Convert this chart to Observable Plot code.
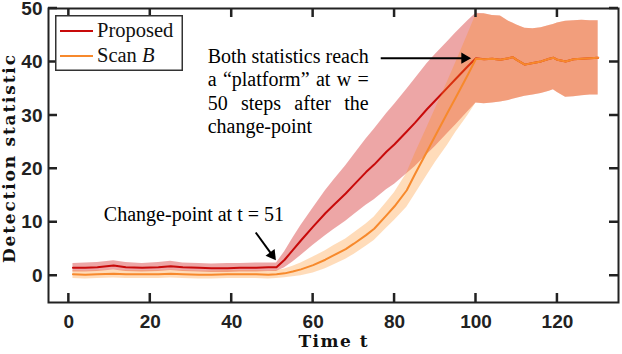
<!DOCTYPE html>
<html><head><meta charset="utf-8">
<script src="https://cdn.jsdelivr.net/npm/d3@7"></script>
<script src="https://cdn.jsdelivr.net/npm/@observablehq/plot@0.6"></script>
<style>
body{margin:0;background:#fff;}
#wrap{position:relative;width:622px;height:354px;}
#legend{position:absolute;left:55px;top:15px;}
</style></head><body><div id="wrap"></div>
<script>
// ---- data ----
const t = [1, 4, 7, 11, 14, 18, 22, 25, 28, 32, 35, 39, 42, 46, 49, 51,
  53, 55, 57, 60, 63, 65, 68, 70, 73, 75, 78, 80, 83, 85, 88, 90, 93, 95, 98, 100,
  102, 104, 106, 108, 109, 110, 112, 114, 116, 118, 119, 120, 122, 124, 126, 128, 130];

const proposed = [1.5, 1.5, 1.6, 1.9, 1.6, 1.5, 1.6, 1.8, 1.6, 1.5, 1.4, 1.4, 1.5, 1.5, 1.6, 1.6,
  3.0, 4.8, 6.6, 9.2, 11.7, 13.2, 15.4, 17.0, 19.4, 20.8, 23.2, 24.6, 27.0, 28.6, 31.2, 32.8, 35.2, 36.8, 39.2, 40.7,
  40.5, 40.6, 40.4, 40.7, 40.9, 40.4, 39.5, 39.8, 40.1, 40.6, 40.8, 40.4, 40.1, 40.5, 40.6, 40.7, 40.8];
const proposedLo = [0.7, 0.7, 0.8, 1.1, 0.8, 0.7, 0.8, 1.0, 0.8, 0.7, 0.6, 0.6, 0.7, 0.7, 0.8, 0.8,
  1.5, 2.6, 3.8, 5.7, 7.5, 8.6, 10.2, 11.4, 13.2, 14.2, 16.1, 17.1, 19.1, 20.4, 22.7, 24.2, 26.6, 28.2, 30.7, 32.3,
  32.2, 32.3, 32.5, 32.8, 33.0, 33.2, 33.6, 33.8, 34.1, 34.5, 34.8, 34.3, 33.4, 33.5, 33.7, 33.8, 33.8];
const proposedHi = [2.3, 2.4, 2.5, 2.8, 2.5, 2.3, 2.5, 2.7, 2.4, 2.3, 2.2, 2.3, 2.3, 2.4, 2.4, 2.4,
  4.5, 7.0, 9.4, 12.7, 15.9, 17.8, 20.6, 22.6, 25.6, 27.4, 30.3, 32.1, 34.9, 36.8, 39.7, 41.4, 43.8, 45.4, 47.7, 49.1,
  49.0, 48.7, 48.6, 47.6, 47.3, 46.9, 46.3, 46.2, 46.4, 46.8, 47.0, 47.3, 47.6, 47.7, 47.8, 47.7, 47.7];

const scanB = [0.3, 0.2, 0.3, 0.4, 0.3, 0.3, 0.3, 0.4, 0.3, 0.2, 0.2, 0.3, 0.3, 0.3, 0.2, 0.3,
  0.45, 0.8, 1.2, 2.0, 3.0, 3.8, 5.0, 6.0, 7.6, 8.8, 11.3, 13.0, 16.0, 19.0, 23.3, 26.2, 30.5, 33.3, 37.6, 40.6,
  40.5, 40.6, 40.4, 40.7, 40.9, 40.4, 39.5, 39.8, 40.1, 40.6, 40.8, 40.4, 40.1, 40.5, 40.6, 40.7, 40.8];
const scanBLo = [-0.5, -0.6, -0.5, -0.4, -0.5, -0.5, -0.5, -0.4, -0.5, -0.6, -0.6, -0.5, -0.5, -0.5, -0.6, -0.5,
  -0.35, -0.2, 0.0, 0.5, 1.3, 2.0, 3.1, 4.0, 5.5, 6.6, 8.9, 10.4, 12.8, 15.2, 18.8, 21.2, 24.4, 26.8, 30.0, 32.3,
  32.2, 32.3, 32.5, 32.8, 33.0, 33.2, 33.6, 33.8, 34.1, 34.5, 34.8, 34.3, 33.4, 33.5, 33.7, 33.8, 33.8];
const scanBHi = [1.0, 0.9, 1.0, 1.1, 1.0, 1.0, 1.0, 1.1, 1.0, 0.9, 0.9, 1.0, 1.0, 1.0, 0.9, 1.0,
  1.25, 1.8, 2.4, 3.5, 4.7, 5.6, 6.9, 8.0, 9.7, 11.0, 13.7, 15.6, 19.2, 22.8, 27.8, 31.2, 36.3, 39.8, 45.2, 48.9,
  49.0, 48.7, 48.6, 47.6, 47.3, 46.9, 46.3, 46.2, 46.4, 46.8, 47.0, 47.3, 47.6, 47.7, 47.8, 47.7, 47.7];

const xTicks = [0, 20, 40, 60, 80, 100, 120];
const yTicks = [0, 10, 20, 30, 40, 50];
const seriesMain = ["Proposed", "Scan "];
const seriesItalic = ["", "B"];
const lineColors = ["#c80a0a", "#f7892c"];
const bandColors = ["#cc0000", "#ff8c1a"];

const xLabel = "Time t";
const yLabel = "Detection statistic";
const noteText = "Both statistics reach\na \u201Cplatform\u201D at w =\n50 steps after the\nchange-point";
const noteAt = {x: 34.1, y: 42.9};
const cpText = "Change-point at t = 51";
const cpAt = {x: 8.6, y: 11.5};
const arrows = [
  {x1: 76.6, y1: 40.7, x2: 97.2, y2: 40.7, tipX: 97.2, tipY: 40.7, angle: 90},
  {x1: 45.9, y1: 8.1, x2: 49.9, y2: 3.9, tipX: 49.9, tipY: 3.9, angle: 143.5}
];

// ---- build table ----
const rows = t.map((d, i) => ({
  t: d, p: proposed[i], pLo: proposedLo[i], pHi: proposedHi[i],
  s: scanB[i], sLo: scanBLo[i], sHi: scanBHi[i]
}));

const serif = "'Liberation Serif', 'Times New Roman', serif";
const labelSerif = "'DejaVu Serif', serif";
const W = 622, H = 354, mL = 48, mR = 4, mT = 8, mB = 52;
const tickLen = 9;
const frameW = W - mL - mR, frameH = H - mT - mB;
const axisInk = "#222222";
const xDomain = [-5, 135], yDomain = [-5, 50];

const plot = Plot.plot({
  width: W, height: H,
  marginLeft: mL, marginRight: mR, marginTop: mT, marginBottom: mB,
  x: {domain: xDomain},
  y: {domain: yDomain},
  style: {fontFamily: "'Liberation Sans', Arial, sans-serif", fontSize: "19px", fontWeight: "bold", color: axisInk, background: "white"},
  marks: [
    Plot.areaY(rows, {x: "t", y1: "pLo", y2: "pHi", fill: bandColors[0], fillOpacity: 0.35}),
    Plot.line(rows, {x: "t", y: "p", stroke: lineColors[0], strokeWidth: 2}),
    Plot.areaY(rows, {x: "t", y1: "sLo", y2: "sHi", fill: bandColors[1], fillOpacity: 0.3}),
    Plot.line(rows, {x: "t", y: "s", stroke: lineColors[1], strokeWidth: 2}),
    Plot.frame({stroke: axisInk, strokeWidth: 2, fill: "none"}),
    Plot.axisX({ticks: xTicks, anchor: "bottom", tickSize: 0, tickPadding: 12, label: null}),
    Plot.axisY({ticks: yTicks, anchor: "left", tickSize: 0, tickPadding: 6, label: null}),
    Plot.text([noteText], {x: noteAt.x, y: noteAt.y, textAnchor: "start", lineAnchor: "top", lineHeight: 1.165, fontFamily: serif, fontSize: 20, fontWeight: "normal", fill: "#000"}),
    Plot.text([cpText], {x: cpAt.x, y: cpAt.y, textAnchor: "start", lineAnchor: "middle", fontFamily: serif, fontSize: 20, fontWeight: "normal", fill: "#000"}),
    Plot.link(arrows, {x1: "x1", y1: "y1", x2: "x2", y2: "y2", stroke: "#000", strokeWidth: 2}),
    Plot.dot(arrows, {x: "tipX", y: "tipY", symbol: "triangle", r: 4.2, fill: "#000", stroke: null, rotate: "angle"})
  ]
});

const wrap = document.getElementById("wrap");
wrap.appendChild(plot);
const svg = d3.select(plot);

// inward ticks on all four sides, positioned with the plot's x/y scale descriptors
const fTop = mT, fBottom = H - mB, fLeft = mL, fRight = W - mR;
const xs = plot.scale("x") || {}, ys = plot.scale("y") || {};
const fx = d3.scaleLinear(xs.domain || xDomain, xs.range || [fLeft, fRight]);
const fy = d3.scaleLinear(ys.domain || yDomain, ys.range || [fBottom, fTop]);
const tg = svg.append("g").attr("class", "inward-ticks");
xTicks.forEach(v => {
  const px = fx(v);
  tg.append("path").attr("d", `M${px},${fBottom}V${fBottom - tickLen}M${px},${fTop}V${fTop + tickLen}`)
    .attr("stroke", axisInk).attr("stroke-width", 2.5).attr("fill", "none");
});
yTicks.forEach(v => {
  const py = fy(v);
  tg.append("path").attr("d", `M${fLeft},${py}H${fLeft + tickLen}M${fRight},${py}H${fRight - tickLen}`)
    .attr("stroke", axisInk).attr("stroke-width", 2.5).attr("fill", "none");
});

// axis titles
svg.append("text").text(xLabel)
  .attr("x", mL + frameW / 2).attr("y", 347).attr("text-anchor", "middle")
  .attr("font-family", labelSerif).attr("font-size", 17).attr("font-weight", "bold").attr("fill", "#111")
  .attr("textLength", 69).attr("lengthAdjust", "spacing");
svg.append("text").text(yLabel)
  .attr("transform", "translate(15,159) rotate(-90)").attr("text-anchor", "middle")
  .attr("font-family", labelSerif).attr("font-size", 17).attr("font-weight", "bold").attr("fill", "#111")
  .attr("textLength", 208).attr("lengthAdjust", "spacing");

// justify the note lines (except the last) to the first line's width
svg.selectAll("text").filter(function() { return this.textContent.startsWith("Both"); })
  .each(function() {
    const spans = d3.select(this).selectAll("tspan").nodes();
    if (!spans.length) return;
    const target = spans[0].getComputedTextLength();
    spans.forEach((sp, i) => {
      if (i === 0 || i === spans.length - 1) return;
      const w = sp.getComputedTextLength();
      const gaps = (sp.textContent.match(/ /g) || []).length;
      if (gaps) sp.setAttribute("word-spacing", ((target - w) / gaps).toFixed(2));
    });
  });

// legend
const lg = d3.select(wrap).append("svg").attr("id", "legend").attr("width", 128).attr("height", 56);
lg.append("rect").attr("x", 0.75).attr("y", 0.75).attr("width", 126.5).attr("height", 54.5)
  .attr("fill", "#fff").attr("stroke", "#333").attr("stroke-width", 1.5);
seriesMain.forEach((name, i) => {
  const cy = 16 + i * 25;
  lg.append("line").attr("x1", 5).attr("x2", 38).attr("y1", cy).attr("y2", cy)
    .attr("stroke", lineColors[i]).attr("stroke-width", 2);
  const tx = lg.append("text").attr("x", 42).attr("y", cy + 6)
    .attr("font-family", serif).attr("font-size", 20.5).attr("fill", "#111");
  tx.append("tspan").text(name);
  if (seriesItalic[i]) tx.append("tspan").attr("font-style", "italic").text(seriesItalic[i]);
});
</script>
</body></html>
